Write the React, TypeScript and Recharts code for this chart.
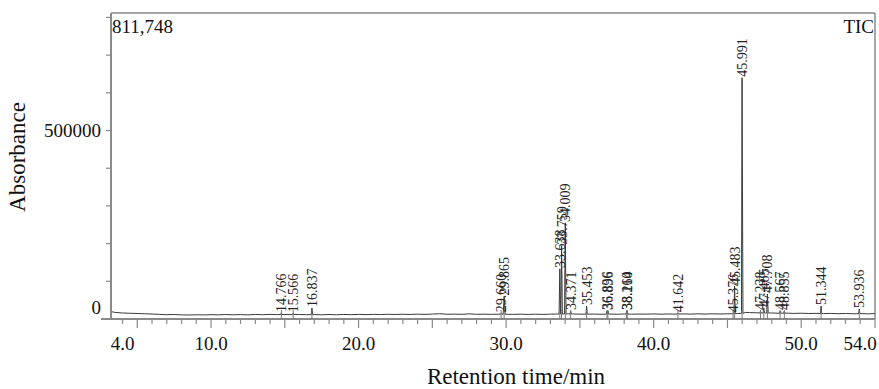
import React from "react";
import { ComposedChart, Line, Scatter, XAxis, YAxis, ReferenceLine } from "recharts";

const FONT = '"Liberation Serif", "Times New Roman", serif';
const AXIS_GRAY = "#8a8a8a";

const X_MIN = 3.22;
const X_MAX = 55.0;
const Y_MAX = 811748;

// minutes, one tick per minute; long ticks every 5 min
const xTicks = [
  4, 5, 6, 7, 8, 9, 10, 11, 12, 13, 14, 15, 16, 17, 18, 19, 20, 21, 22, 23, 24, 25, 26, 27, 28, 29,
  30, 31, 32, 33, 34, 35, 36, 37, 38, 39, 40, 41, 42, 43, 44, 45, 46, 47, 48, 49, 50, 51, 52, 53, 54, 55,
];
const xTickLabels: Record<number, string> = {
  4: "4.0",
  10: "10.0",
  20: "20.0",
  30: "30.0",
  40: "40.0",
  50: "50.0",
  54: "54.0",
};

const yTicks = [0, 100000, 200000, 300000, 400000, 500000, 600000, 700000, 800000];
const yTickLabels: Record<number, string> = { 0: "0", 500000: "500000" };

// baseline of the TIC trace [time, counts]
const baseline: [number, number][] = [
  [3.22, 19500], [3.5, 17500], [4.0, 16000], [4.5, 15200], [5.0, 14600], [5.5, 13900],
  [6.0, 13200], [6.5, 12300], [7.0, 11400], [7.5, 11900], [8.0, 11000], [8.5, 10600],
  [9.0, 11200], [9.5, 10800], [10.0, 11500], [10.5, 11000], [11.0, 11800], [11.5, 11200],
  [12.0, 11600], [12.5, 11000], [13.0, 12000], [13.5, 11400], [14.0, 12200], [14.5, 11600],
  [15.0, 12000], [15.5, 11500], [16.0, 12000], [16.5, 11300], [17.0, 11800], [17.5, 11200],
  [18.0, 11900], [18.5, 11300], [19.0, 12100], [19.5, 11500], [20.0, 12200], [20.5, 11600],
  [21.0, 12300], [21.5, 11800], [22.0, 12500], [22.5, 12000], [23.0, 12600], [23.5, 12100],
  [24.0, 12800], [24.5, 12300], [25.0, 13100], [25.5, 13900], [26.0, 12600], [26.5, 12900],
  [27.0, 12400], [27.5, 13600], [28.0, 12500], [28.5, 12800], [29.0, 12300], [29.5, 12900],
  [30.0, 12500], [30.5, 12200], [31.0, 12800], [31.5, 12100], [32.0, 12700], [32.5, 12300],
  [33.0, 12900], [33.5, 13200], [34.2, 13600], [34.5, 13400], [35.0, 12800], [36.0, 13000],
  [36.5, 12600], [37.0, 13200], [37.5, 12700], [38.0, 13300], [38.5, 12800], [39.0, 13100],
  [39.5, 12900], [40.0, 13400], [40.5, 12800], [41.0, 13300], [41.5, 12900], [42.0, 13500],
  [42.5, 13000], [43.0, 13600], [43.5, 13200], [44.0, 13700], [44.5, 13300], [45.0, 13800],
  [45.7, 14500], [46.2, 17500], [46.5, 17000], [47.0, 16400], [47.58, 15800], [48.0, 16000],
  [48.5, 15200], [49.0, 15600], [49.5, 14800], [50.0, 15300], [50.5, 14600], [51.0, 15000],
  [51.5, 14300], [52.0, 14800], [52.5, 14100], [53.0, 14600], [53.5, 13900], [54.0, 14400],
  [54.5, 13800], [55.0, 14200],
];

// detected peaks: retention time, apex counts, start/end time, foot level
const peaks = [
  { rt: 14.766, h: 16000, t0: 14.72, t1: 14.81, b: 11900 },
  { rt: 15.566, h: 15000, t0: 15.52, t1: 15.61, b: 11800 },
  { rt: 16.837, h: 29000, t0: 16.79, t1: 16.89, b: 11700 },
  { rt: 29.66, h: 15500, t0: 29.62, t1: 29.72, b: 12800 },
  { rt: 29.865, h: 60000, t0: 29.8, t1: 29.93, b: 12700 },
  { rt: 33.638, h: 133000, t0: 33.59, t1: 33.69, b: 13100 },
  { rt: 33.759, h: 194000, t0: 33.71, t1: 33.81, b: 13200 },
  { rt: 34.009, h: 255000, t0: 33.96, t1: 34.06, b: 13400 },
  { rt: 34.371, h: 21000, t0: 34.33, t1: 34.42, b: 13300 },
  { rt: 35.453, h: 34500, t0: 35.41, t1: 35.5, b: 12900 },
  { rt: 36.836, h: 21000, t0: 36.8, t1: 36.865, b: 13000 },
  { rt: 36.896, h: 21500, t0: 36.87, t1: 36.94, b: 13000 },
  { rt: 38.164, h: 21000, t0: 38.13, t1: 38.185, b: 13100 },
  { rt: 38.21, h: 21500, t0: 38.19, t1: 38.25, b: 13100 },
  { rt: 41.642, h: 15500, t0: 41.6, t1: 41.69, b: 13200 },
  { rt: 45.376, h: 15500, t0: 45.34, t1: 45.42, b: 13900 },
  { rt: 45.483, h: 87500, t0: 45.44, t1: 45.53, b: 14000 },
  { rt: 45.991, h: 640000, t0: 45.95, t1: 46.05, b: 15000 },
  { rt: 47.238, h: 21000, t0: 47.2, t1: 47.28, b: 16000 },
  { rt: 47.465, h: 29000, t0: 47.42, t1: 47.51, b: 15900 },
  { rt: 47.708, h: 66000, t0: 47.66, t1: 47.76, b: 15800 },
  { rt: 48.567, h: 21000, t0: 48.53, t1: 48.61, b: 15300 },
  { rt: 48.855, h: 21000, t0: 48.81, t1: 48.9, b: 15400 },
  { rt: 51.344, h: 34500, t0: 51.3, t1: 51.39, b: 14600 },
  { rt: 53.936, h: 26500, t0: 53.89, t1: 53.98, b: 14000 },
];

const inPeak = (t: number) => peaks.some((p) => t >= p.t0 && t <= p.t1);

const trace = [
  ...baseline.filter(([t]) => !inPeak(t)).map(([t, v]) => ({ t, v })),
  ...peaks.flatMap((p) => [
    { t: p.t0, v: p.b },
    { t: p.rt, v: p.h },
    { t: p.t1, v: p.b },
  ]),
].sort((a, b) => a.t - b.t);

const peakLabels = peaks.map((p) => ({ t: p.rt, v: p.h, label: p.rt.toFixed(3) }));
const peakMarks = peaks.map((p) => ({ t: p.rt, v: 0 }));

const XTick = ({ x, y, payload }: any) => {
  const v = payload.value;
  const label = xTickLabels[v];
  return (
    <g>
      <line x1={x} x2={x} y1={y} y2={y + (v % 5 === 0 ? 9 : 5)} stroke={AXIS_GRAY} strokeWidth={1.2} />
      {label && (
        <text x={x} y={y + 31} textAnchor="middle" fontSize={19} fontFamily={FONT} fill="#111">
          {label}
        </text>
      )}
    </g>
  );
};

const YTick = ({ x, y, payload }: any) => {
  const v = payload.value;
  const label = yTickLabels[v];
  return (
    <g>
      <line x1={x - 5} x2={x} y1={y} y2={y} stroke={AXIS_GRAY} strokeWidth={1.2} />
      {label && (
        <text
          x={x - 10}
          y={v === 0 ? y - 12 : y}
          dy="0.35em"
          textAnchor="end"
          fontSize={19}
          fontFamily={FONT}
          fill="#111"
        >
          {label}
        </text>
      )}
    </g>
  );
};

const PeakLabel = ({ cx, cy, payload }: any) => {
  const x = cx + 5;
  const y = cy - 1;
  return (
    <text
      x={x}
      y={y}
      transform={`rotate(-90 ${x} ${y})`}
      fontSize={14}
      fontFamily={FONT}
      fill="#222"
    >
      {payload.label}
    </text>
  );
};

const PeakMark = ({ cx, cy }: any) => (
  <line x1={cx} x2={cx} y1={cy - 9} y2={cy + 8} stroke="#777" strokeWidth={1} />
);

export default function App() {
  return (
    <div style={{ position: "absolute", left: 0, top: 0, width: 879, height: 389, background: "#fff" }}>
      <ComposedChart width={879} height={389} margin={{ top: 13, right: 4, bottom: 0, left: 0 }}>
        <XAxis
          type="number"
          dataKey="t"
          domain={[X_MIN, X_MAX]}
          allowDataOverflow
          ticks={xTicks}
          interval={0}
          height={70}
          tickSize={0}
          tickMargin={0}
          tickLine={false}
          axisLine={{ stroke: AXIS_GRAY, strokeWidth: 2 }}
          tick={(p: any) => <XTick {...p} />}
        />
        <YAxis
          type="number"
          dataKey="v"
          domain={[0, Y_MAX]}
          allowDataOverflow
          ticks={yTicks}
          interval={0}
          width={111}
          tickSize={0}
          tickMargin={0}
          tickLine={false}
          axisLine={{ stroke: AXIS_GRAY, strokeWidth: 2 }}
          tick={(p: any) => <YTick {...p} />}
        />
        <ReferenceLine y={Y_MAX} stroke={AXIS_GRAY} strokeWidth={1.5} />
        <ReferenceLine x={X_MAX} stroke={AXIS_GRAY} strokeWidth={1.5} />
        <Scatter data={peakMarks} dataKey="v" shape={(p: any) => <PeakMark {...p} />} isAnimationActive={false} />
        <Line
          data={trace}
          dataKey="v"
          type="linear"
          stroke="#3a3a3a"
          strokeWidth={1}
          dot={false}
          activeDot={false}
          isAnimationActive={false}
        />
        <Scatter data={peakLabels} dataKey="v" shape={(p: any) => <PeakLabel {...p} />} isAnimationActive={false} />
      </ComposedChart>
      <svg
        width={879}
        height={389}
        style={{ position: "absolute", left: 0, top: 0, pointerEvents: "none" }}
        fontFamily={FONT}
      >
        <line x1={101} x2={111} y1={319} y2={319} stroke={AXIS_GRAY} strokeWidth={2} />
        <text x={112} y={33} fontSize={19} fill="#111">
          811,748
        </text>
        <text x={874} y={33} fontSize={19} textAnchor="end" fill="#111">
          TIC
        </text>
        <text x={25} y={157} fontSize={23} textAnchor="middle" transform="rotate(-90 25 157)" fill="#111">
          Absorbance
        </text>
        <text x={516} y={384} fontSize={23} textAnchor="middle" fill="#111">
          Retention time/min
        </text>
      </svg>
    </div>
  );
}
